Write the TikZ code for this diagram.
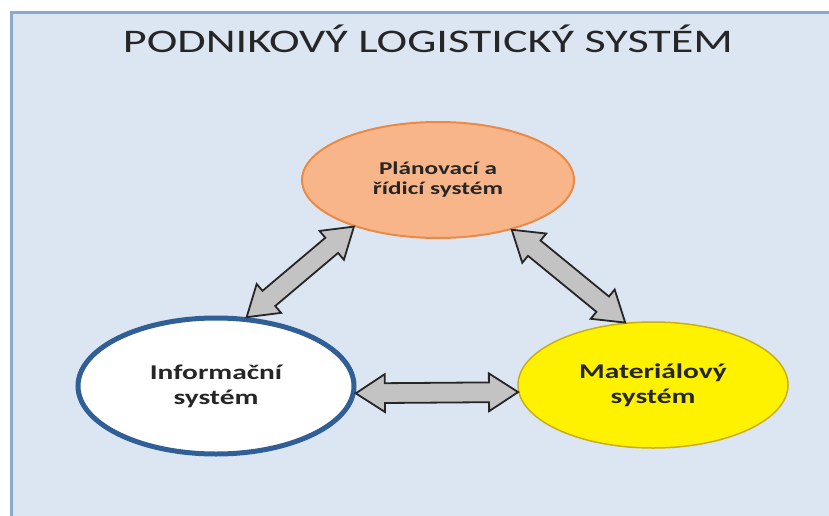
\documentclass[tikz,border=0pt]{standalone}
\usepackage{fontspec}
\setmainfont{Carlito}[FakeStretch = 1.4]
\usetikzlibrary{shapes.geometric, shapes.arrows, calc}
\definecolor{panelfill}{HTML}{DCE6F2}
\definecolor{paneledge}{HTML}{8EA8C9}
\definecolor{planfill}{HTML}{F9B58A}
\definecolor{planedge}{HTML}{EB8A45}
\definecolor{infoedge}{HTML}{2F5F96}
\definecolor{matedge}{HTML}{C9AE1A}
\definecolor{arrowfill}{HTML}{C3C3C3}
\definecolor{arrowedge}{HTML}{262626}
\definecolor{textdark}{HTML}{262626}
\tikzset{
  subsystem/.style = {ellipse, inner sep = 0pt, align = center, text = textdark,
    font = \fontsize{21}{25}\selectfont\bfseries},
  link/.style = {double arrow, draw = arrowedge, fill = arrowfill,
    line width = 1.8pt, inner sep = 0pt,
    double arrow head extend = 9pt, double arrow tip angle = 66}
}
\newcommand\linkarrow[2]{%
  \path let \p1 = ($(#2)-(#1)$), \n1 = {atan2(\y1,\x1)},
    \n2 = {veclen(\x1,\y1)} in
    node [link, rotate = \n1, minimum height = \n2] at ($(#1)!.5!(#2)$)
      {\rule{0pt}{18pt}};}

\begin{document}
\begin{tikzpicture}[x = 1pt, y = -1pt]
  \useasboundingbox (0,0) rectangle (829,516);
  \clip (0,0) rectangle (829,516);
  \fill [white] (0,0) rectangle (829,516);
  \draw [fill = panelfill, draw = paneledge, line width = 3pt] (11,13) rectangle (845,530);
  \node [anchor = base, text = textdark, font = \fontsize{33}{37}\selectfont]
    (title) at (428,53) {PODNIKOVÝ LOGISTICKÝ SYSTÉM};
  \node [subsystem, fill = planfill, draw = planedge, line width = 2pt,
         minimum width = 272pt, minimum height = 116pt,
         font = \fontsize{18}{20}\selectfont\bfseries]
    (plan) at (438,180) {Plánovací a\\řídicí systém};
  \node [subsystem, fill = white, draw = infoedge, line width = 5pt,
         minimum width = 276pt, minimum height = 136pt]
    (info) at (216,386) {Informační\\systém};
  \node [subsystem, fill = yellow, draw = matedge, line width = 1.5pt,
         minimum width = 270pt, minimum height = 126pt]
    (mat) at (653,385) {Materiálový\\systém};
  \linkarrow{info.66}{plan.209}
  \linkarrow{plan.-34}{mat.114}
  \linkarrow{info.-3}{mat.183}
\end{tikzpicture}
\end{document}
